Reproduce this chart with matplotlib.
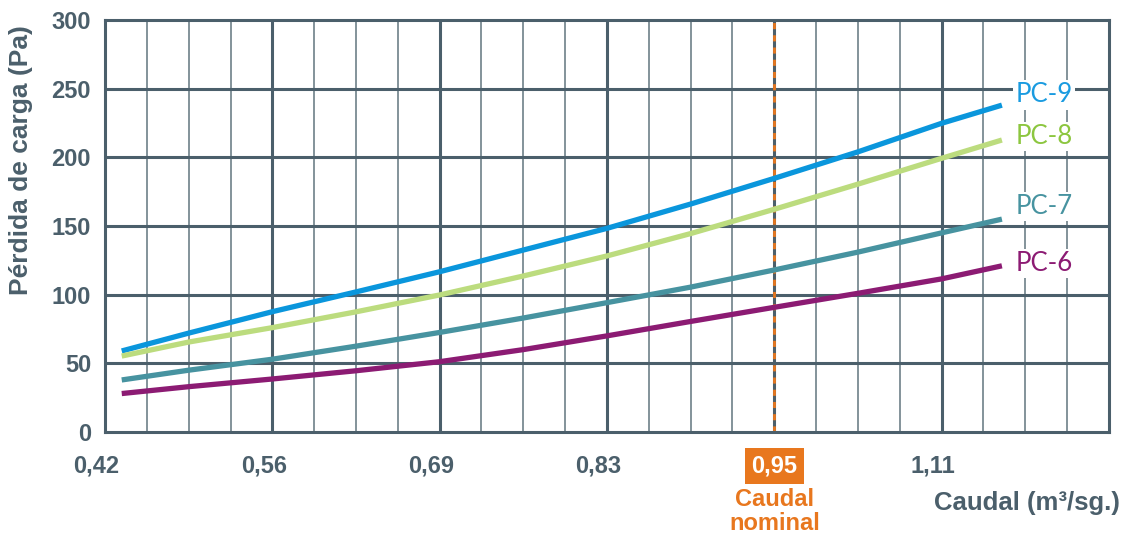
import matplotlib
matplotlib.use("Agg")
import matplotlib.pyplot as plt
import numpy as np

# ---- data ----
x_ticklabels = ["0,42", "0,56", "0,69", "0,83", "0,95", "1,11"]
x_idx = [0.10, 0.5, 1.0, 1.5, 2.0, 2.5, 3.0, 3.5, 4.0, 4.5, 5.0, 5.36]
pc9 = [59, 72, 87.6, 102, 116.7, 132.5, 148.3, 166, 184.7, 204, 224.8, 238]
pc8 = [55.3, 65.5, 76, 87.5, 99.8, 113.6, 128.2, 144.5, 162.2, 180.5, 199.3, 212.6]
pc7 = [37.9, 45, 53, 62.5, 72.5, 83, 94.2, 105.5, 118, 131, 145, 155]
pc6 = [28, 33, 38.6, 44.6, 51.2, 60, 70, 80.5, 90.8, 101, 111.5, 121]
series_names = ["PC-9", "PC-8", "PC-7", "PC-6"]
y_ticks = [0, 50, 100, 150, 200, 250, 300]

line_colors = ["#0a96dc", "#bcdc7e", "#4793a0", "#8c1b73"]
text_colors = ["#1a9be0", "#8cc63f", "#4793a0", "#8c1b73"]
grid_c = "#4b5f6b"
orange = "#e8771e"

fig = plt.figure(figsize=(11.24, 5.33), dpi=100)
ax = fig.add_axes([105/1124, 1 - 432/533, 1004/1124, 412/533])

ax.set_xlim(0, 6)
ax.set_ylim(0, 300)

# grid
for v in np.arange(0.25, 6, 0.25):
    if abs(v - round(v)) < 1e-9:
        ax.axvline(v, color=grid_c, lw=2.2, zorder=1)
    else:
        ax.axvline(v, color="#62757f", lw=1.1, zorder=1)
for v in y_ticks[1:-1]:
    ax.axhline(v, color=grid_c, lw=2.2, zorder=1)
for s in ax.spines.values():
    s.set_color(grid_c)
    s.set_linewidth(2.2)
    s.set_zorder(3)

# nominal flow line
ax.axvline(4, color=orange, lw=2.0, ls=(0, (2.2, 2.2)), zorder=2)

# curves
for vals, c in zip([pc9, pc8, pc7, pc6], line_colors):
    ax.plot(x_idx, vals, color=c, lw=3.8, solid_capstyle="butt",
            solid_joinstyle="round", zorder=4)

# series labels
label_y = [245.4, 215, 164, 122.8]
for name, yv, c in zip(series_names, label_y, text_colors):
    ax.text(5.44, yv, name, color=c, fontsize=18.5, family="Lato",
            fontweight="normal", ha="left", va="center", zorder=5,
            bbox=dict(facecolor="white", edgecolor="none", pad=1.5))

# y ticks
ax.set_yticks(y_ticks)
ax.set_yticklabels([str(v) for v in y_ticks])
ax.tick_params(axis="y", length=0, pad=10, labelsize=17, labelcolor=grid_c)
for t in ax.get_yticklabels():
    t.set_fontweight("bold")
    t.set_family("Liberation Sans")

# x ticks (custom labels)
ax.set_xticks([])
for i, lbl in enumerate(x_ticklabels):
    if i == 4:
        ax.annotate(lbl, xy=(i, 0), xycoords=("data", "axes fraction"),
                    xytext=(0, -24.5), textcoords="offset points",
                    ha="center", va="center", fontsize=17, fontweight="bold",
                    family="Liberation Sans", color="white",
                    bbox=dict(boxstyle="square,pad=0.28", facecolor=orange,
                              edgecolor="none"))
        ax.annotate("Caudal\nnominal", xy=(i, 0), xycoords=("data", "axes fraction"),
                    xytext=(0, -57), textcoords="offset points",
                    ha="center", va="center", fontsize=17, fontweight="bold",
                    family="Liberation Sans", color=orange, linespacing=1.05)
    else:
        ax.annotate(lbl, xy=(i, 0), xycoords=("data", "axes fraction"),
                    xytext=(-6, -24.5), textcoords="offset points",
                    ha="center", va="center", fontsize=17, fontweight="bold",
                    family="Liberation Sans", color=grid_c)

# axis titles
ax.set_ylabel("Pérdida de carga (Pa)", fontsize=19, fontweight="bold",
              family="Liberation Sans", color=grid_c)
ax.yaxis.set_label_coords(-0.0717, 0.66)
fig.text(1120/1124, 1 - 503/533, "Caudal (m³/sg.)", ha="right", va="center",
         fontsize=18.5, fontweight="bold", family="Liberation Sans", color=grid_c)

fig.savefig("out.png", dpi=100)
